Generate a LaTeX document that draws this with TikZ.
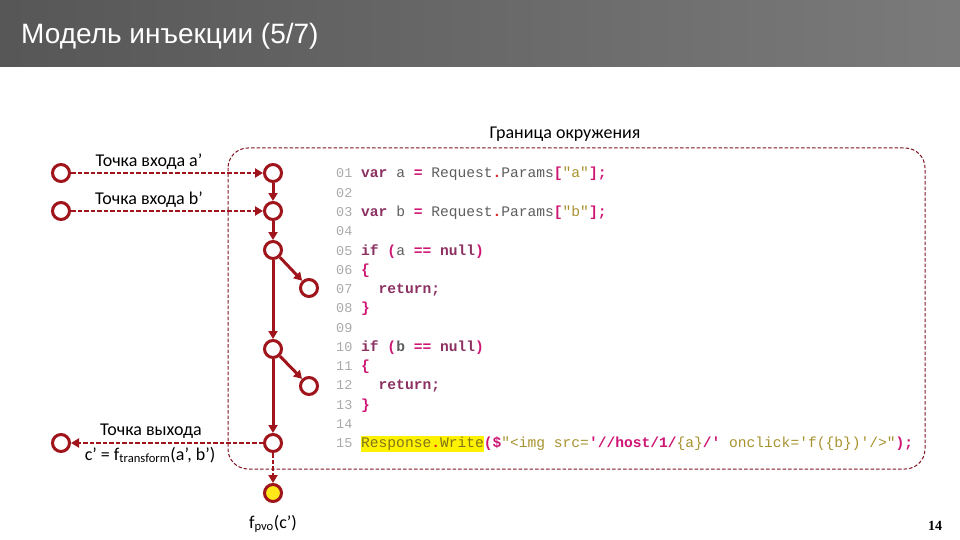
\documentclass[tikz,border=0pt]{standalone}
\usepackage{fontspec}
\setmainfont{Carlito}
\newfontfamily\titlefont{Liberation Sans}
\newfontfamily\codefont{Liberation Mono}
\newfontfamily\numfont{Liberation Serif}
\usetikzlibrary{arrows.meta}
\definecolor{nodered}{HTML}{A0141C}
\definecolor{boundc}{HTML}{7E1424}
\definecolor{lnum}{HTML}{AAAAAA}
\definecolor{ckw}{HTML}{8B3060}
\definecolor{cpl}{HTML}{5E5E5E}
\definecolor{cop}{HTML}{CF1574}
\definecolor{cdot}{HTML}{E02424}
\definecolor{cstr}{HTML}{A8922E}
\definecolor{hl}{HTML}{FFF200}
\definecolor{colive}{HTML}{7E7418}
\definecolor{yfill}{HTML}{FFE81A}
\newcommand\kw[1]{{\color{ckw}\bfseries #1}}
\newcommand\op[1]{{\color{cop}\bfseries #1}}
\newcommand\dt[1]{{\color{cdot}\bfseries #1}}
\newcommand\st[1]{{\color{cstr}#1}}
\tikzset{
  circ/.style={circle, draw=nodered, line width=3pt, fill=white, minimum size=17pt, inner sep=0pt},
  ycirc/.style={circ, fill=yfill},
  conn/.style={draw=nodered, line width=3pt, -{Triangle[length=8pt,width=9pt]}},
  dconn/.style={conn, line width=2.6pt, dash pattern=on 4.5pt off 2pt},
  lbl/.style={font=\fontsize{18}{20}\selectfont, text=black, inner sep=0pt},
  lnumst/.style={anchor=west, inner sep=0pt, text height=11pt, text depth=3pt, text=lnum, font=\codefont\fontsize{13.5}{16}\selectfont},
  codest/.style={anchor=west, inner sep=0pt, text height=11pt, text depth=3pt, text=cpl, font=\codefont\fontsize{14.6}{16}\selectfont},
}
\begin{document}
\begin{tikzpicture}[x=1pt,y=-1pt]
\useasboundingbox (0,0) rectangle (960,540);
\fill[white] (0,0) rectangle (960,540);
% title bar
\shade[left color=black!66, right color=black!52] (0,0) rectangle (960,67);
\node[anchor=west, inner sep=0pt, text=white, font=\titlefont\fontsize{28}{32}\selectfont] (title) at (21,36) {Модель инъекции (5/7)};
% environment boundary
\draw[boundc, line width=1pt, dash pattern=on 3.5pt off 2pt, rounded corners=20pt] (228,148) rectangle (925,469);
\node[lbl] (envlbl) at (565,134) {Граница окружения};
% nodes
\node[circ] (ina) at (61,173) {};
\node[circ] (inb) at (61,211) {};
\node[circ] (outl) at (61,443) {};
\node[circ] (c1) at (273,173) {};
\node[circ] (c2) at (273,211) {};
\node[circ] (c3) at (273,250) {};
\node[circ] (s1) at (309,288) {};
\node[circ] (c4) at (273,349) {};
\node[circ] (s2) at (309,386) {};
\node[circ] (c5) at (273,443) {};
\node[ycirc] (sink) at (273,493) {};
% connectors
\draw[dconn] (ina) -- (c1);
\draw[dconn] (inb) -- (c2);
\draw[conn] (c1) -- (c2);
\draw[conn] (c2) -- (c3);
\draw[conn] (c3) -- (s1);
\draw[conn] (c3) -- (c4);
\draw[conn] (c4) -- (s2);
\draw[conn] (c4) -- (c5);
\draw[dconn] (c5) -- (outl);
\draw[dconn] (c5) -- (sink);
% labels
\node[lbl] (la) at (149,162) {Точка входа a'};
\node[lbl] (lb) at (149,200) {Точка входа b'};
\node[lbl] (lo1) at (151,431) {Точка выхода};
\node[lbl] (lo2) at (150,455) {c' = f\textsubscript{transform}(a', b')};
\node[lbl] (lsink) at (273,524) {f\textsubscript{pvo}(c')};
% code
\foreach \n [count=\i] in {01,02,03,04,05,06,07,08,09,10,11,12,13,14,15}
  \node[lnumst] (n\n) at (336,{174+(\i-1)*19.25}) {\n};
\node[codest] (l01) at (361,174) {\kw{var} a \op{=} Request\dt{.}Params\op{[}\st{"a"}\op{];}};
\node[codest] (l03) at (361,212.5) {\kw{var} b \op{=} Request\dt{.}Params\op{[}\st{"b"}\op{];}};
\node[codest] (l05) at (361,251) {\kw{if} \op{(}a \op{==} \kw{null}\op{)}};
\node[codest] (l06) at (361,270.25) {\op{\{}};
\node[codest] (l07) at (361,289.5) {\phantom{xx}\kw{return;}};
\node[codest] (l08) at (361,308.75) {\op{\}}};
\node[codest] (l10) at (361,347.25) {\kw{if} \op{(}\textbf{b} \op{==} \kw{null}\op{)}};
\node[codest] (l11) at (361,366.5) {\op{\{}};
\node[codest] (l12) at (361,385.75) {\phantom{xx}\kw{return;}};
\node[codest] (l13) at (361,405) {\op{\}}};
\node[codest] (l15) at (361,443.5) {\setlength\fboxsep{0pt}\colorbox{hl}{\strut\color{colive}Response\dt{.}Write}\op{(\$}\st{"<img src=}\op{'//host/1/}\st{\{a\}}\op{/'} \st{onclick='f(\{b\})'/>"}\op{);}};
% page number
\node[inner sep=0pt, font=\numfont\bfseries\fontsize{14}{16}\selectfont] (pnum) at (935,526) {14};
\end{tikzpicture}
\end{document}
